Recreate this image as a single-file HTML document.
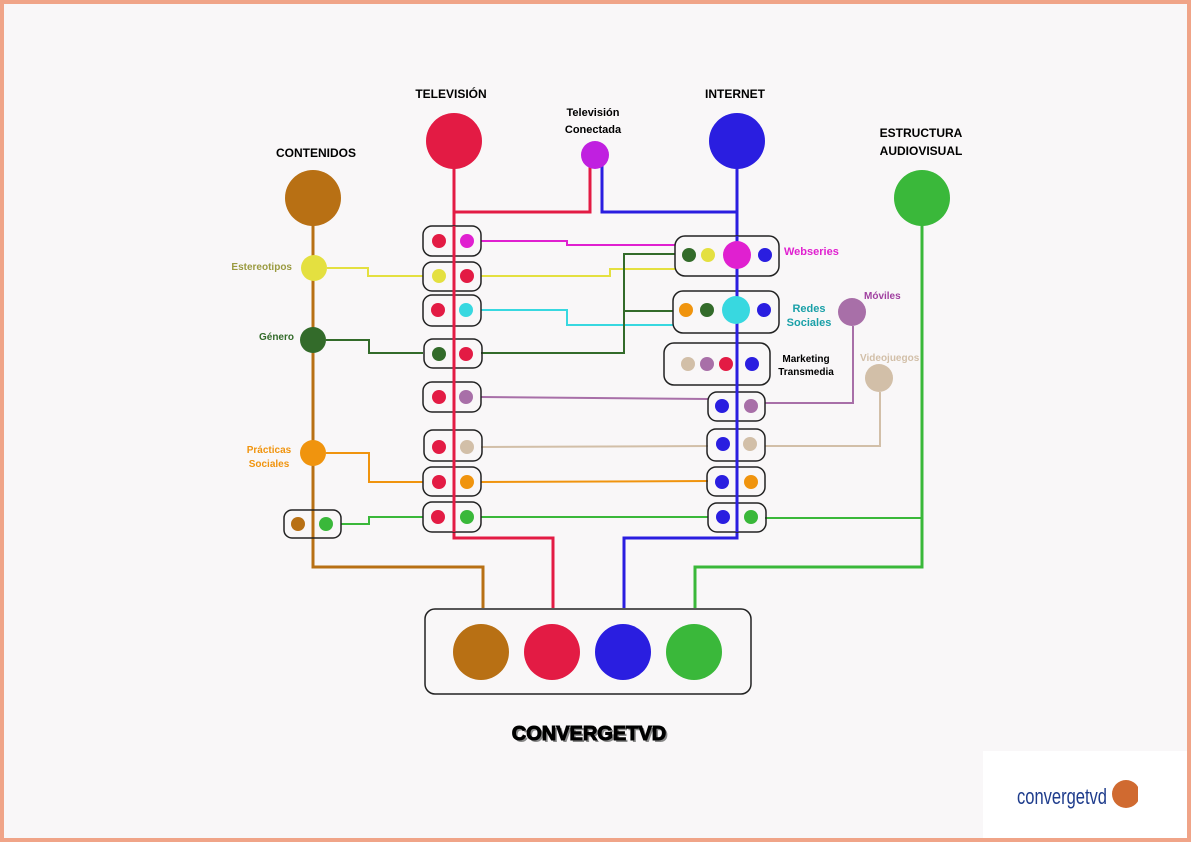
<!DOCTYPE html>
<html><head><meta charset="utf-8"><style>
html,body{margin:0;padding:0;background:#fff}
svg{display:block}
text{font-family:"Liberation Sans",sans-serif;font-weight:bold}
</style></head><body>
<svg width="1191" height="842" viewBox="0 0 1191 842" xmlns="http://www.w3.org/2000/svg">
<rect x="0" y="0" width="1191" height="842" fill="#f0a488"/>
<rect x="4" y="4" width="1183" height="834" fill="#f9f7f8"/>
<g fill="none" stroke-width="3">
<polyline points="454,141 454,538 553,538 553,608" stroke="#e31b44"/>
<polyline points="737,141 737,538 624,538 624,608" stroke="#2a1ee0"/>
<polyline points="590,160 590,212 454,212" stroke="#e31b44"/>
<polyline points="602,160 602,212 737,212" stroke="#2a1ee0"/>
<polyline points="313,198 313,567 483,567 483,608" stroke="#b87014"/>
<polyline points="922,198 922,567 695,567 695,608" stroke="#3ab83a"/>
<g stroke-width="2">
<polyline points="481,241 567,241 567,245 675,245" stroke="#e020d0"/>
<polyline points="327,268 368,268 368,276 423,276" stroke="#e4e040"/>
<polyline points="481,276 610,276 610,269 675,269" stroke="#e4e040"/>
<polyline points="481,310 567,310 567,325 673,325" stroke="#38d8e0"/>
<polyline points="326,340 369,340 369,353 423,353" stroke="#336b2a"/>
<polyline points="481,353 624,353 624,254 675,254" stroke="#336b2a"/>
<polyline points="624,311 673,311" stroke="#336b2a"/>
<polyline points="481,397 708,399" stroke="#a86fa8"/>
<polyline points="765,403 853,403 853,326" stroke="#a86fa8"/>
<polyline points="481,447 708,446" stroke="#d2bfa8"/>
<polyline points="765,446 880,446 880,392" stroke="#d2bfa8"/>
<polyline points="326,453 369,453 369,482 423,482" stroke="#f0940e"/>
<polyline points="481,482 708,481" stroke="#f0940e"/>
<polyline points="341,524 369,524 369,517 423,517" stroke="#3ab83a"/>
<polyline points="481,517 708,517" stroke="#3ab83a"/>
<polyline points="765,518 922,518" stroke="#3ab83a"/>
</g>
</g>
<g fill="none" stroke="#222" stroke-width="1.5">
<rect x="423" y="226" width="58" height="30" rx="9"/>
<rect x="423" y="262" width="58" height="29" rx="9"/>
<rect x="423" y="295" width="58" height="31" rx="9"/>
<rect x="424" y="339" width="58" height="29" rx="9"/>
<rect x="423" y="382" width="58" height="30" rx="9"/>
<rect x="424" y="430" width="58" height="31" rx="9"/>
<rect x="423" y="467" width="58" height="29" rx="9"/>
<rect x="423" y="502" width="58" height="30" rx="9"/>
<rect x="675" y="236" width="104" height="40" rx="10"/>
<rect x="673" y="291" width="106" height="42" rx="10"/>
<rect x="664" y="343" width="106" height="42" rx="10"/>
<rect x="708" y="392" width="57" height="29" rx="9"/>
<rect x="707" y="429" width="58" height="32" rx="9"/>
<rect x="707" y="467" width="58" height="29" rx="9"/>
<rect x="708" y="503" width="58" height="29" rx="9"/>
<rect x="284" y="510" width="57" height="28" rx="8"/>
<rect x="425" y="609" width="326" height="85" rx="10"/>
</g>
<line x1="454" y1="226" x2="454" y2="532" stroke="#e31b44" stroke-width="3"/>
<line x1="737" y1="236" x2="737" y2="532" stroke="#2a1ee0" stroke-width="3"/>
<g>
<circle cx="454" cy="141" r="28" fill="#e31b44"/>
<circle cx="737" cy="141" r="28" fill="#2a1ee0"/>
<circle cx="313" cy="198" r="28" fill="#b87014"/>
<circle cx="922" cy="198" r="28" fill="#3ab83a"/>
<circle cx="595" cy="155" r="14" fill="#c020e0"/>
<circle cx="314" cy="268" r="13" fill="#e4e040"/>
<circle cx="313" cy="340" r="13" fill="#336b2a"/>
<circle cx="313" cy="453" r="13" fill="#f0940e"/>
<circle cx="852" cy="312" r="14" fill="#a86fa8"/>
<circle cx="879" cy="378" r="14" fill="#d2bfa8"/>
<circle cx="439" cy="241" r="7" fill="#e31b44"/><circle cx="467" cy="241" r="7" fill="#e020d0"/>
<circle cx="439" cy="276" r="7" fill="#e4e040"/><circle cx="467" cy="276" r="7" fill="#e31b44"/>
<circle cx="438" cy="310" r="7" fill="#e31b44"/><circle cx="466" cy="310" r="7" fill="#38d8e0"/>
<circle cx="439" cy="354" r="7" fill="#336b2a"/><circle cx="466" cy="354" r="7" fill="#e31b44"/>
<circle cx="439" cy="397" r="7" fill="#e31b44"/><circle cx="466" cy="397" r="7" fill="#a86fa8"/>
<circle cx="439" cy="447" r="7" fill="#e31b44"/><circle cx="467" cy="447" r="7" fill="#d2bfa8"/>
<circle cx="439" cy="482" r="7" fill="#e31b44"/><circle cx="467" cy="482" r="7" fill="#f0940e"/>
<circle cx="438" cy="517" r="7" fill="#e31b44"/><circle cx="467" cy="517" r="7" fill="#3ab83a"/>
<circle cx="689" cy="255" r="7" fill="#336b2a"/><circle cx="708" cy="255" r="7" fill="#e4e040"/>
<circle cx="737" cy="255" r="14" fill="#e020d0"/><circle cx="765" cy="255" r="7" fill="#2a1ee0"/>
<circle cx="686" cy="310" r="7" fill="#f0940e"/><circle cx="707" cy="310" r="7" fill="#336b2a"/>
<circle cx="736" cy="310" r="14" fill="#38d8e0"/><circle cx="764" cy="310" r="7" fill="#2a1ee0"/>
<circle cx="688" cy="364" r="7" fill="#d2bfa8"/><circle cx="707" cy="364" r="7" fill="#a86fa8"/>
<circle cx="726" cy="364" r="7" fill="#e31b44"/><circle cx="752" cy="364" r="7" fill="#2a1ee0"/>
<circle cx="722" cy="406" r="7" fill="#2a1ee0"/><circle cx="751" cy="406" r="7" fill="#a86fa8"/>
<circle cx="723" cy="444" r="7" fill="#2a1ee0"/><circle cx="750" cy="444" r="7" fill="#d2bfa8"/>
<circle cx="722" cy="482" r="7" fill="#2a1ee0"/><circle cx="751" cy="482" r="7" fill="#f0940e"/>
<circle cx="723" cy="517" r="7" fill="#2a1ee0"/><circle cx="751" cy="517" r="7" fill="#3ab83a"/>
<circle cx="298" cy="524" r="7" fill="#b87014"/><circle cx="326" cy="524" r="7" fill="#3ab83a"/>
<circle cx="481" cy="652" r="28" fill="#b87014"/>
<circle cx="552" cy="652" r="28" fill="#e31b44"/>
<circle cx="623" cy="652" r="28" fill="#2a1ee0"/>
<circle cx="694" cy="652" r="28" fill="#3ab83a"/>
</g>
<g font-size="12" fill="#000">
<text x="451" y="98" text-anchor="middle">TELEVISIÓN</text>
<text x="735" y="98" text-anchor="middle">INTERNET</text>
<text x="316" y="157" text-anchor="middle">CONTENIDOS</text>
<text x="921" y="137" text-anchor="middle">ESTRUCTURA</text>
<text x="921" y="155" text-anchor="middle">AUDIOVISUAL</text>
<text x="593" y="116" text-anchor="middle" font-size="11">Televisión</text>
<text x="593" y="133" text-anchor="middle" font-size="11">Conectada</text>
<text x="806" y="362" text-anchor="middle" font-size="10" font-weight="normal">Marketing</text>
<text x="806" y="375" text-anchor="middle" font-size="10" font-weight="normal">Transmedia</text>
</g>
<g font-size="10">
<text x="784" y="255" fill="#e020d0" font-size="11">Webseries</text>
<text x="809" y="312" text-anchor="middle" fill="#1aa0a8" font-size="11">Redes</text>
<text x="809" y="326" text-anchor="middle" fill="#1aa0a8" font-size="11">Sociales</text>
<text x="864" y="299" fill="#a040a0" font-weight="normal">Móviles</text>
<text x="860" y="361" fill="#d2bfa8" font-weight="normal">Videojuegos</text>
<text x="292" y="270" text-anchor="end" fill="#9a9a40">Estereotipos</text>
<text x="294" y="340" text-anchor="end" fill="#336b2a">Género</text>
<text x="269" y="453" text-anchor="middle" fill="#f0940e">Prácticas</text>
<text x="269" y="467" text-anchor="middle" fill="#f0940e">Sociales</text>
</g>
<text x="591" y="742" text-anchor="middle" font-size="20" fill="#888" style="font-weight:900">CONVERGETVD</text>
<text x="589" y="740" text-anchor="middle" font-size="20" fill="#000" stroke="#000" stroke-width="1" style="font-weight:900">CONVERGETVD</text>
<rect x="983" y="751" width="204" height="87" fill="#fff"/>
<text x="1017" y="804" font-size="22" fill="#1e3c8c" textLength="90" lengthAdjust="spacingAndGlyphs" style="font-weight:normal">convergetvd</text>
<circle cx="1126" cy="794" r="14" fill="#d06a30"/>
<rect x="1138" y="776" width="8" height="36" fill="#fff"/>
</svg>
</body></html>
